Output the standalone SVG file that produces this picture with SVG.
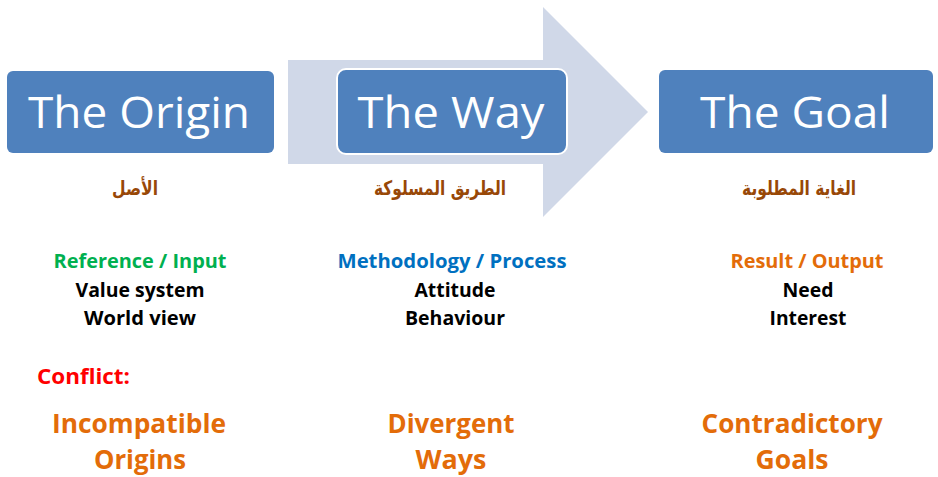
<svg xmlns="http://www.w3.org/2000/svg" width="938" height="477" viewBox="0 0 938 477">
<style>
.box{fill:#4F81BD}
.title{font-family:"Open Sans","Liberation Sans",sans-serif;font-size:44px;fill:#fff;text-anchor:middle}
.ar{font-family:"DejaVu Sans",sans-serif;font-weight:bold;font-size:20px;fill:#984807;text-anchor:middle}
.lbl{font-family:"Open Sans","Liberation Sans",sans-serif;font-weight:bold;font-size:20px;text-anchor:middle}
.blk{fill:#000}
.big{font-family:"Open Sans","Liberation Sans",sans-serif;font-weight:bold;font-size:27px;fill:#E36C09;text-anchor:middle}
</style>
<rect width="938" height="477" fill="#fff"/>
<g id="connectors">
<path d="M288 60 H543 V7 L648 112 L543 217 V164 H288 Z" fill="#D0D8E8"/>
</g>
<g id="origin">
<rect class="box" x="7" y="71" width="267" height="82" rx="6"/>
<text class="title" x="139" y="128" textLength="222" lengthAdjust="spacingAndGlyphs">The Origin</text>
<text class="ar" x="135" y="195" textLength="46" lengthAdjust="spacingAndGlyphs">الأصل</text>
<text class="lbl" x="140" y="268" fill="#00B050" textLength="173" lengthAdjust="spacingAndGlyphs">Reference / Input</text>
<text class="lbl blk" x="140" y="297" textLength="129" lengthAdjust="spacingAndGlyphs">Value system</text>
<text class="lbl blk" x="140" y="325" textLength="112" lengthAdjust="spacingAndGlyphs">World view</text>
</g>
<g id="way">
<rect class="box" x="337" y="69" width="230" height="85" rx="9" stroke="#fff" stroke-width="2"/>
<text class="title" x="451" y="128" textLength="187" lengthAdjust="spacingAndGlyphs">The Way</text>
<text class="ar" x="440" y="195" textLength="132" lengthAdjust="spacingAndGlyphs">الطريق المسلوكة</text>
<text class="lbl" x="452" y="268" fill="#0070C0" textLength="229" lengthAdjust="spacingAndGlyphs">Methodology / Process</text>
<text class="lbl blk" x="455" y="297" textLength="81" lengthAdjust="spacingAndGlyphs">Attitude</text>
<text class="lbl blk" x="455" y="325" textLength="100" lengthAdjust="spacingAndGlyphs">Behaviour</text>
</g>
<g id="goal">
<rect class="box" x="659" y="70" width="274" height="83" rx="6"/>
<text class="title" x="795" y="128" textLength="190" lengthAdjust="spacingAndGlyphs">The Goal</text>
<text class="ar" x="799" y="195" textLength="114" lengthAdjust="spacingAndGlyphs">الغاية المطلوبة</text>
<text class="lbl" x="807" y="268" fill="#E36C09" textLength="153" lengthAdjust="spacingAndGlyphs">Result / Output</text>
<text class="lbl blk" x="808" y="297" textLength="51" lengthAdjust="spacingAndGlyphs">Need</text>
<text class="lbl blk" x="808" y="325" textLength="77" lengthAdjust="spacingAndGlyphs">Interest</text>
</g>
<g id="conflict">
<text x="37" y="384" font-family="'Open Sans','Liberation Sans',sans-serif" font-weight="bold" font-size="22" fill="#FF0000" textLength="93" lengthAdjust="spacingAndGlyphs">Conflict:</text>
<text class="big" x="139" y="433" textLength="174" lengthAdjust="spacingAndGlyphs">Incompatible</text>
<text class="big" x="140" y="469" textLength="92" lengthAdjust="spacingAndGlyphs">Origins</text>
<text class="big" x="451" y="433" textLength="127" lengthAdjust="spacingAndGlyphs">Divergent</text>
<text class="big" x="451" y="469" textLength="71" lengthAdjust="spacingAndGlyphs">Ways</text>
<text class="big" x="792" y="433" textLength="181" lengthAdjust="spacingAndGlyphs">Contradictory</text>
<text class="big" x="792" y="469" textLength="73" lengthAdjust="spacingAndGlyphs">Goals</text>
</g>
</svg>
